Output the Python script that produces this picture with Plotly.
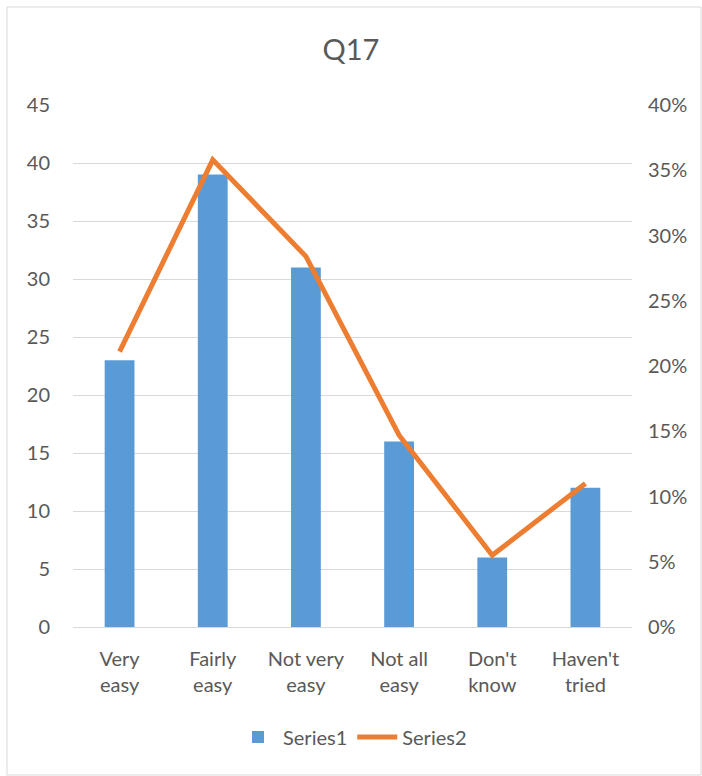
import plotly.graph_objects as go

categories = ["Very<br>easy", "Fairly<br>easy", "Not very<br>easy", "Not all<br>easy", "Don't<br>know", "Haven't<br>tried"]
series1 = [23, 39, 31, 16, 6, 12]
series2 = [0.211, 0.358, 0.284, 0.147, 0.055, 0.110]

W, H = 702, 776
L, R, T, B = 73, 70, 105, 149
pw, ph = W - L - R, H - T - B

font_family = "Lato, Open Sans, sans-serif"
gray = "#595959"

fig = go.Figure()
fig.add_trace(go.Bar(x=categories, y=series1, name="Series1", marker_color="#5B9BD5",
                     marker_line_width=0, yaxis="y"))
fig.add_trace(go.Scatter(x=categories, y=series2, name="Series2", mode="lines",
                         line=dict(color="#ED7D31", width=5), yaxis="y2"))

def px_x(x):
    return (x - L) / pw

def px_y(y):
    return (H - B - y) / ph

fig.update_layout(
    width=W, height=H,
    margin=dict(l=L, r=R, t=T, b=B, autoexpand=False),
    paper_bgcolor="white", plot_bgcolor="white",
    font=dict(family=font_family, color=gray, size=20),
    title=dict(text="Q17", x=0.5, xanchor="center", y=1 - 50 / H, yanchor="middle",
               font=dict(size=29, color=gray, family=font_family)),
    bargap=0.68,
    xaxis=dict(showgrid=False, showline=True, linecolor="#D9D9D9", linewidth=1,
               ticks="", tickfont=dict(size=20, color=gray), ticklabelstandoff=14),
    yaxis=dict(range=[0, 45], dtick=5, showgrid=True, gridcolor="#D9D9D9", gridwidth=1,
               zeroline=False, showline=False, ticks="", tickfont=dict(size=20, color=gray),
               ticklabelstandoff=22),
    yaxis2=dict(range=[0, 0.4], dtick=0.05, tickformat=".0%", overlaying="y", side="right",
                showgrid=False, zeroline=False, showline=False, ticks="",
                tickfont=dict(size=20, color=gray), ticklabelstandoff=15),
    legend=dict(orientation="h", x=0.5, xanchor="center", y=px_y(737), yanchor="middle",
                font=dict(size=20, color=gray), itemwidth=40, traceorder="normal"),
    shapes=[dict(type="rect", xref="paper", yref="paper",
                 x0=px_x(7), x1=px_x(701), y0=px_y(775), y1=px_y(7),
                 line=dict(color="#D9D9D9", width=1), fillcolor="rgba(0,0,0,0)", layer="below")],
)

fig.write_html("out.html", config={"displayModeBar": False},
               post_script="document.body.style.margin='0';")
